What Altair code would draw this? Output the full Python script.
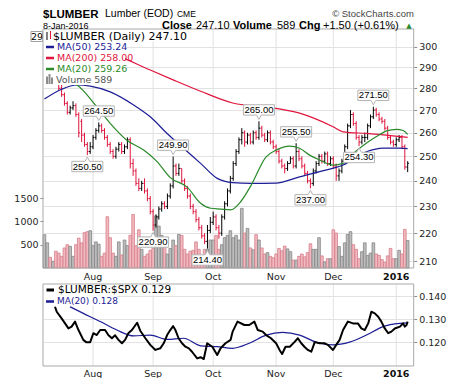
import altair as alt
import pandas as pd

# ---------------- data ----------------
open_ = [284,285,287,284,286,283,280,277,273,269,
         271,272,268,265,259,255,252,254,258,261,
         263,261,258,255,252,250,253,255,252,254,
         257,247,244,239,237,239,236,233,228,223,
         226,229,231,230,234,238,246,243,245,240,
         237,234,230,228,225,222,219,217,221,224,
         226,222,220,226,231,236,241,247,252,257,
         260,256,259,256,260,258,262,259,257,260,
         256,254,252,248,246,245,247,249,246,252,
         249,246,243,240,239,244,247,250,248,251,
         247,249,246,242,244,248,254,263,268,264,
         258,256,258,258,263,267,270,268,266,265,
         262,258,256,255,257,258,254,245.6]
high = [287,289,288,287,287,285,282,278,274,272,
        274,273,269,266,260,256,256,259,262,264.5,
        264,262,259,256,253,254,256,256,255,258,
        258,249,245,241,240,241,237,234,229,227,
        230,232,232,235,239,249.9,247,247,245,241,
        238,235,231,229,226,223,220,223,226,228,
        227,223,227,232,237,242,248,253,258,262,
        261,260,260,261,261,265,263,260,261,261,
        257,255,253,249,247,248,250,250,255.5,253,
        250,247,244,241,245,248,251,251,252,252,
        250,250,247,245,249,255,264,270,269,265,
        259,259,260,264,268,271.5,271,269,267,266,
        263,259,257,258,259,259,255,248]
low = [283,284,283,283,282,279,276,272,268,268,
       270,267,258,256,254,250.5,251,253,257,260,
       260,257,254,251,249,249,252,251,251,253,
       245,242,238,236,236,235,232,227,220.9,222,
       225,228,229,229,233,237,242,242,239,236,
       233,229,227,224,221,218,216,214.4,220,223,
       221,218,219,225,230,235,240,246,251,255,
       254,255,255,255,257,257,258,256,256,255,
       253,251,247,245,243,244,247,245,245,248,
       245,242,239,237,238,243,246,247,247,246,
       246,245,240,240,243,247,253,262,263,257,
       254.3,255,256,257,262,266,267,265,264,261,
       257,255,254,254,256,253,244.5,243.5]
close = [285,287,284,286,283,280,277,273,269,271,
         272,268,260,259,255,252,254,258,261,263,
         261,258,255,252,250,253,255,252,254,257,
         247,244,239,237,239,236,233,228,223,226,
         229,231,230,234,238,246,243,245,240,237,
         234,230,228,225,222,219,217,221,224,226,
         222,220,226,231,236,241,247,252,257,260,
         256,259,256,260,258,262,259,257,260,256,
         254,252,248,246,245,247,249,246,252,249,
         246,243,240,239,244,247,250,248,251,247,
         249,246,242,244,248,254,263,268,264,258,
         256,258,258,263,267,270,268,266,265,262,
         258,256,255,257,258,254,245.6,247.1]
volume = [715,540,230,145,360,320,250,430,500,465,250,500,640,540,760,780,800,
          480,560,510,250,320,1100,650,320,250,560,280,600,480,700,1150,480,820,400,250,300,380,
          420,1120,900,700,520,300,420,600,480,720,700,400,300,360,380,560,400,260,400,400,600,
          600,700,400,500,650,700,800,650,700,600,1280,750,850,430,390,715,600,430,300,330,250,220,
          300,420,370,470,410,350,170,170,250,300,240,330,520,400,400,650,260,130,200,200,
          820,750,460,250,540,720,780,500,400,200,350,540,270,320,540,300,270,180,120,260,420,200,
          200,380,300,830,589]

ma50_i = [0, 6, 11.3, 16, 23, 31.2, 37, 42.9, 48.7, 54.6, 60.4, 65.8, 72.1, 80.9, 89.2, 96.2, 104.4, 112.6, 118.4, 124.3, 127]
ma50_v = [275.0, 279.5, 281.5, 281.0, 278.3, 272.3, 267.0, 259.7, 253.3, 247.1, 241.0, 239.3, 239.0, 239.1, 241.6, 243.7, 246.4, 251.9, 253.4, 253.4, 253.24]
ma200_i = [19.5, 26.5, 37.0, 45.2, 54.6, 65.8, 80.9, 89.2, 100.9, 104.4, 112.6, 119.6, 127]
ma200_v = [299.3, 295.1, 288.6, 283.8, 278.6, 273.2, 270.8, 268.6, 262.6, 260.4, 259.7, 259.0, 258.0]
ma20_i = [5.4, 11.3, 18.3, 23.0, 28.8, 34.7, 39.4, 44.0, 49.9, 54.6, 58.1, 61.6, 65.1, 68.6, 72.1, 77.5, 81.0, 85.7, 89.2, 92.7, 96.2, 100.9, 104.4, 106.7, 112.6, 116.1, 119.6, 123.1, 125.4, 127]
ma20_v = [283.8, 281.5, 271.5, 264.1, 256.8, 252.6, 247.8, 241.3, 237.5, 231.2, 229.3, 229.0, 228.7, 231.8, 237.9, 249.8, 252.6, 254.3, 253.4, 250.5, 248.5, 246.4, 247.1, 249.8, 255.6, 258.4, 260.8, 261.5, 261.0, 259.26]

ratio_i = [3.7, 4.3, 6.0, 8.4, 9.5, 10.7, 11.9, 13.6, 14.6, 16.0, 17.1, 18.3, 19.5, 21.2, 22.4, 23.6, 24.7, 25.9, 27.1, 28.2,
           29.4, 30.6, 32.4, 33.5, 35.3, 37.0, 38.8, 40.5, 41.7, 42.9, 44.0, 45.0, 45.8, 46.9, 48.1, 49.3, 50.5, 51.6, 53.4, 54.6,
           55.7, 56.9, 58.7, 60.4, 61.6, 63.3, 65.1, 65.8, 67.5, 69.9, 71.6, 73.4, 74.6, 76.3, 77.5, 79.2, 81.0, 82.2, 83.1, 84.3,
           85.8, 87.4, 88.6, 89.8, 90.9, 92.1, 93.3, 94.5, 96.2, 98.0, 99.1, 100.9, 102.0, 103.2, 104.4, 106.1, 107.9, 109.6, 110.8, 112.0,
           113.2, 114.3, 115.5, 116.7, 117.8, 119.0, 120.2, 121.3, 122.5, 124.3, 125.4, 126.0, 126.6, 127]
ratio_v = [0.1355, 0.1333, 0.1304, 0.126, 0.1268, 0.129, 0.1253, 0.121, 0.120, 0.120, 0.1239, 0.1231, 0.1253, 0.1253, 0.123, 0.1217, 0.123, 0.121, 0.1195, 0.121,
           0.124, 0.1253, 0.1285, 0.125, 0.1217, 0.1188, 0.1166, 0.1173, 0.1195, 0.1231, 0.1253, 0.127, 0.1253, 0.1217, 0.1195, 0.118, 0.1173, 0.1158, 0.1129, 0.1134,
           0.1126, 0.1195, 0.118, 0.1144, 0.1173, 0.1195, 0.121, 0.1246, 0.129, 0.1275, 0.1275, 0.129, 0.1253, 0.1246, 0.1231, 0.1217, 0.1195, 0.1166, 0.1148, 0.118,
           0.118, 0.120, 0.1217, 0.1195, 0.118, 0.1166, 0.1158, 0.120, 0.1195, 0.1195, 0.1188, 0.1166, 0.1188, 0.121, 0.1253, 0.129, 0.1282, 0.1282, 0.126, 0.1253,
           0.1282, 0.1333, 0.1326, 0.1311, 0.129, 0.126, 0.1239, 0.1246, 0.126, 0.1268, 0.1282, 0.1268, 0.1275, 0.129]
rma_i = [8.9, 13.6, 19.5, 25.3, 31.2, 37.0, 42.9, 48.7, 54.6, 60.4, 65.8, 71.6, 77.5, 83.3, 89.2, 95.0, 100.9, 106.7, 112.6, 118.4, 124.3, 127]
rma_v = [0.1355, 0.1326, 0.129, 0.1253, 0.1227, 0.1231, 0.1212, 0.1217, 0.1184, 0.118, 0.1173, 0.1195, 0.1231, 0.1243, 0.1231, 0.120, 0.1188, 0.120, 0.1231, 0.1268, 0.1282, 0.1284]

month_i = [17, 38, 59, 81, 101, 123]
month_lbl = ["Aug", "Sep", "Oct", "Nov", "Dec", "2016"]

ann_i = [15, 19, 38, 45, 57, 75, 88, 93, 110, 115]
ann_p = [250.5, 264.5, 220.9, 249.9, 214.4, 265.0, 255.5, 237.0, 254.3, 271.5]
ann_pos = ["dn", "up", "dn", "up", "dn", "up", "up", "dn", "dn", "up"]

price_ticks = [210, 220, 230, 240, 250, 260, 270, 280, 290, 300]
vol_ticks = [500, 1000, 1500]
ratio_ticks = [0.12, 0.13, 0.14]

# ---------------- layout ----------------
W, H = 370.7, 337
PH = 239
LT, LB = 255, 337
RED = "#e0143c"
NAVY = "#1c1c96"
GREEN = "#2a8a2a"
GRID = "#e2e2e2"
FRAME = "#a9a9a9"

n = len(close)
up = [True] + [close[k] >= close[k - 1] for k in range(1, n)]
bars = pd.DataFrame({
    "i": list(range(n)), "o": open_, "h": high, "l": low, "c": close, "v": volume,
    "pcol": ["#000000" if u else RED for u in up],
    "vfill": ["#bebebe" if u else "#f2b8bf" for u in up],
    "vstroke": ["#858585" if u else "#d6808c" for u in up],
})

xsc = alt.Scale(domain=[-0.5, 129.1], nice=False, zero=False)
psc = alt.Scale(type="log", domain=[207.6, 309.0], range=[PH, 0], nice=False, zero=False)
vsc = alt.Scale(domain=[0, 5130], range=[PH, 0], nice=False, zero=True)
rsc = alt.Scale(domain=[0.10956, 0.14545], range=[LB, LT], nice=False, zero=False)

LAB = dict(labelFont="DejaVu Sans", labelFontSize=9.5, labelColor="#222222", title=None,
           domain=False, tickSize=3, tickColor="#8a8a8a", labelPadding=2, labelOverlap=False)
price_axis = alt.Axis(orient="right", values=price_ticks, format="d", grid=True, gridColor=GRID, **LAB)
vol_axis = alt.Axis(orient="left", values=vol_ticks, format="d", grid=False, **LAB)
ratio_axis = alt.Axis(orient="right", values=ratio_ticks, format=".3f", grid=True, gridColor=GRID, **LAB)


def X(f):
    return alt.X(f, type="quantitative", scale=xsc, axis=None)


one = pd.DataFrame({"k": [0]})


def txt(text, x, y, size=10, font="DejaVu Sans", color="#000000", weight="normal",
        align="left", baseline="middle"):
    return alt.Chart(one).mark_text(text=text, fontSize=size, font=font, color=color,
                                    fontWeight=weight, align=align, baseline=baseline).encode(
        x=alt.value(x), y=alt.value(y))


def box(x1, x2, y1, y2, fill="white", stroke=None, sw=1):
    kw = dict(fill=fill)
    if stroke:
        kw.update(stroke=stroke, strokeWidth=sw)
    else:
        kw.update(strokeWidth=0)
    return alt.Chart(one).mark_rect(**kw).encode(
        x=alt.value(x1), x2=alt.value(x2), y=alt.value(y1), y2=alt.value(y2))


def hline(x1, x2, y, color, sw):
    return alt.Chart(one).mark_rule(color=color, strokeWidth=sw).encode(
        x=alt.value(x1), x2=alt.value(x2), y=alt.value(y))


layers = []

# vertical month gridlines
months = pd.DataFrame({"i": month_i, "lbl": month_lbl, "bold": [l == "2016" for l in month_lbl]})
layers.append(alt.Chart(months).mark_rule(color=GRID, strokeWidth=1).encode(
    x=X("i"), y=alt.value(0), y2=alt.value(PH)))
layers.append(alt.Chart(months).mark_rule(color=GRID, strokeWidth=1).encode(
    x=X("i"), y=alt.value(LT), y2=alt.value(LB)))

# volume bars
layers.append(alt.Chart(bars).transform_calculate(x0="datum.i-0.47", x1="datum.i+0.47", z="0").mark_rect(strokeWidth=0.8).encode(
    x=X("x0"), x2=alt.X2("x1"),
    y=alt.Y("v:Q", scale=vsc, axis=vol_axis), y2=alt.Y2("z:Q"),
    fill=alt.Fill("vfill:N", scale=None),
    stroke=alt.Stroke("vstroke:N", scale=None)))

# OHLC bars
layers.append(alt.Chart(bars).mark_rule(strokeWidth=1).encode(
    x=X("i"), y=alt.Y("l:Q", scale=psc, axis=price_axis), y2=alt.Y2("h"),
    color=alt.Color("pcol:N", scale=None)))
layers.append(alt.Chart(bars).transform_calculate(xa="datum.i-0.45").mark_rule(strokeWidth=1).encode(
    x=X("xa"), x2=alt.X2("i"), y=alt.Y("o:Q", scale=psc, axis=None),
    color=alt.Color("pcol:N", scale=None)))
layers.append(alt.Chart(bars).transform_calculate(xb="datum.i+0.45").mark_rule(strokeWidth=1).encode(
    x=X("i"), x2=alt.X2("xb"), y=alt.Y("c:Q", scale=psc, axis=None),
    color=alt.Color("pcol:N", scale=None)))

# moving averages
for mi, mv, col in [(ma200_i, ma200_v, RED), (ma50_i, ma50_v, NAVY), (ma20_i, ma20_v, GREEN)]:
    d = pd.DataFrame({"i": mi, "v": mv})
    layers.append(alt.Chart(d).mark_line(interpolate="monotone", strokeWidth=1.2, color=col).encode(
        x=X("i"), y=alt.Y("v:Q", scale=psc, axis=None)))

# annotation boxes
ann = pd.DataFrame({"i": ann_i, "p": ann_p, "pos": ann_pos, "t": ["%.2f" % p for p in ann_p]})
UP_SHAPE = "M-1,-1.07H1V-0.4H0.15L0,-0.12L-0.15,-0.4H-1Z"
DN_SHAPE = "M-1,1.07H1V0.4H0.15L0,0.12L-0.15,0.4H-1Z"
for pos, shape, dy in [("up", UP_SHAPE, -11.4), ("dn", DN_SHAPE, 11.4)]:
    layers.append(alt.Chart(ann).transform_filter(alt.datum.pos == pos).mark_point(
        shape=shape, size=961, filled=True, fill="white", stroke="#b4b4b4", strokeWidth=1, opacity=1).encode(
        x=X("i"), y=alt.Y("p:Q", scale=psc, axis=None)))
    layers.append(alt.Chart(ann).transform_filter(alt.datum.pos == pos).mark_text(
        dy=dy, fontSize=9.5, font="Liberation Sans", color="#000000", baseline="middle", align="center").encode(
        x=X("i"), y=alt.Y("p:Q", scale=psc, axis=None), text="t:N"))

# ratio panel lines
rd = pd.DataFrame({"i": ratio_i, "v": ratio_v})
rm = pd.DataFrame({"i": rma_i, "v": rma_v})
layers.append(alt.Chart(rm).mark_line(interpolate="monotone", strokeWidth=1.2, color=NAVY).encode(
    x=X("i"), y=alt.Y("v:Q", scale=rsc, axis=None)))
layers.append(alt.Chart(rd).mark_line(strokeWidth=2, color="#000000", strokeJoin="round").encode(
    x=X("i"), y=alt.Y("v:Q", scale=rsc, axis=ratio_axis)))

# legend backgrounds (main panel)
layers.append(box(0, 82, 0, 56))
layers.append(box(82, 152, 0, 12.5))
layers.append(box(-12, -0.5, 2.5, 12.5, stroke="#a0a0a0"))
layers.append(txt("29", -6, 7.5, size=9.5, align="center"))
# price icon
layers.append(alt.Chart(one).mark_rule(color="#000000", strokeWidth=1).encode(x=alt.value(4), y=alt.value(3), y2=alt.value(11)))
layers.append(alt.Chart(one).mark_rule(color=RED, strokeWidth=1).encode(x=alt.value(7.5), y=alt.value(2), y2=alt.value(10)))
layers.append(txt("$LUMBER (Daily) 247.10", 10, 7.5, size=11))
for yy, col, label in [(18, NAVY, "MA(50) 253.24"), (29, RED, "MA(200) 258.00"), (40, GREEN, "MA(20) 259.26")]:
    layers.append(hline(3, 11, yy, col, 2.5))
    layers.append(txt(label, 14, yy, size=9.5, color=col))
# volume icon
for (a, b, t) in [(3, 5, 47.5), (5.5, 7.5, 45), (8, 10, 48.5)]:
    layers.append(box(a, b, t, 55, fill="#8c8c8c"))
layers.append(txt("Volume 589", 13, 51, size=9.5, color="#555555"))

# legend backgrounds (ratio panel)
layers.append(box(0, 137, LT + 0.5, 266))
layers.append(box(0, 74, 266, 276.5))
layers.append(hline(3.5, 11, 261, "#000000", 3))
layers.append(txt("$LUMBER:$SPX 0.129", 15, 261, size=10.5))
layers.append(hline(3, 11, 272.5, NAVY, 2.5))
layers.append(txt("MA(20) 0.128", 14, 272.5, size=9, color=NAVY))

# panel frames
layers.append(box(0, W, 0, PH, fill="transparent", stroke=FRAME))
layers.append(box(0, W, LT, LB, fill="transparent", stroke=FRAME))

# month labels (both panels)
for yy in [248, 345.5]:
    layers.append(alt.Chart(months).transform_filter("!datum.bold").mark_text(
        fontSize=9.5, font="DejaVu Sans", color="#222222", baseline="middle", align="center").encode(
        x=X("i"), y=alt.value(yy), text="lbl:N"))
    layers.append(alt.Chart(months).transform_filter("datum.bold").mark_text(
        fontSize=9.5, font="DejaVu Sans", fontWeight="bold", color="#111111", baseline="middle", align="center").encode(
        x=X("i"), y=alt.value(yy), text="lbl:N"))

# header
layers.append(txt("$LUMBER", 0, -11.5, size=11.5, font="Liberation Sans", weight="bold", baseline="alphabetic"))
layers.append(txt("Lumber (EOD)", 62, -12, size=10.5, font="Liberation Sans", baseline="alphabetic"))
layers.append(txt("CME", 134, -12, size=8.5, font="Liberation Sans", baseline="alphabetic"))
layers.append(txt("8-Jan-2016", 0, 0, size=9, font="Liberation Sans", baseline="alphabetic"))
layers.append(txt("Close", 119, -0.5, size=11, font="Liberation Sans", weight="bold", baseline="alphabetic"))
layers.append(txt("247.10", 153, -0.5, size=11, font="Liberation Sans", baseline="alphabetic"))
layers.append(txt("Volume", 190, -0.5, size=11, font="Liberation Sans", weight="bold", baseline="alphabetic"))
layers.append(txt("589", 234, -0.5, size=11, font="Liberation Sans", baseline="alphabetic"))
layers.append(txt("Chg", 256, -0.5, size=11, font="Liberation Sans", weight="bold", baseline="alphabetic"))
layers.append(txt("+1.50 (+0.61%)", 280, -0.5, size=11, font="Liberation Sans", baseline="alphabetic"))
layers.append(txt("▲", 366, -3.5, size=7, color=GREEN, align="center"))
layers.append(txt("© StockCharts.com", 371, -15.5, size=9.5, font="Liberation Sans", color="#444444", align="right"))

chart = alt.layer(*layers).resolve_scale(y="independent").resolve_axis(y="independent").properties(
    width=W, height=H,
    autosize=alt.AutoSizeParams(type="none"),
    padding={"left": 35, "top": 21, "right": 38, "bottom": 12},
).configure_view(strokeWidth=0)

chart.save("out.html", embed_options={"renderer": "svg", "actions": False})
